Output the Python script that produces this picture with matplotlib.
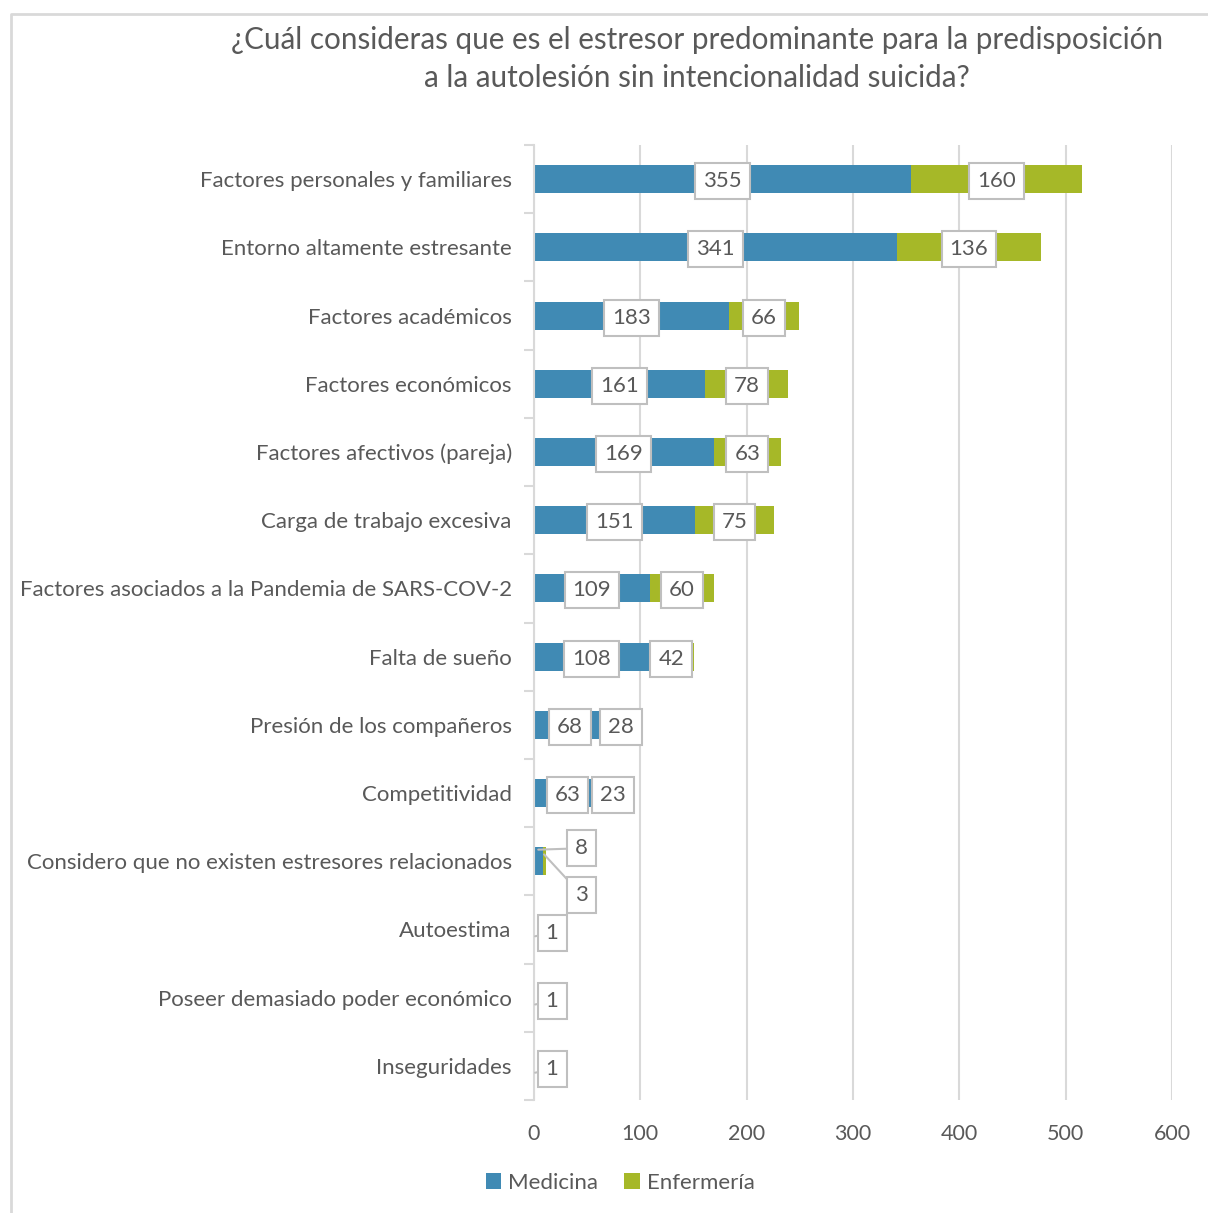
import matplotlib
matplotlib.use("Agg")
import matplotlib.pyplot as plt
from matplotlib.lines import Line2D
import numpy as np

################################################################################
# Data
categories = [
    "Factores personales y familiares",
    "Entorno altamente estresante",
    "Factores académicos",
    "Factores económicos",
    "Factores afectivos (pareja)",
    "Carga de trabajo excesiva",
    "Factores asociados a la Pandemia de SARS-COV-2",
    "Falta de sueño",
    "Presión de los compañeros",
    "Competitividad",
    "Considero que no existen estresores relacionados",
    "Autoestima",
    "Poseer demasiado poder económico",
    "Inseguridades",
]
medicina = [355, 341, 183, 161, 169, 151, 109, 108, 68, 63, 8, 1, 1, 1]
enfermeria = [160, 136, 66, 78, 63, 75, 60, 42, 28, 23, 3, 0, 0, 0]
series_names = ["Medicina", "Enfermería"]
x_ticks = [0, 100, 200, 300, 400, 500, 600]
title = ("¿Cuál consideras que es el estresor predominante para la predisposición\n"
         "a la autolesión sin intencionalidad suicida?")
################################################################################

BLUE = "#408AB4"
GREEN = "#A6B828"
GRID = "#D9D9D9"
TEXT = "#595959"
FONT = "Lato"

plt.rcParams["font.family"] = [FONT, "DejaVu Sans"]

W, H = 1208, 1213
fig = plt.figure(figsize=(W / 100, H / 100), dpi=100)

# frame of the chart area (cut off at right and bottom)
fig.add_artist(Line2D([11 / W, 11 / W, 1.0], [0.0, 1 - 14 / H, 1 - 14 / H],
                      transform=fig.transFigure, color=GRID, lw=2))

ax = fig.add_axes([534 / W, 1 - 1100 / H, (1172 - 534) / W, (1100 - 145) / H])

y = np.arange(len(categories))
bh = 0.41
ax.barh(y, medicina, height=bh, color=BLUE, label=series_names[0], zorder=2)
ax.barh(y, enfermeria, left=medicina, height=bh, color=GREEN,
        label=series_names[1], zorder=2)

ax.set_xlim(0, 600)
ax.set_ylim(len(categories) - 0.5, -0.5)
ax.set_xticks(x_ticks)
ax.set_xticklabels([str(t) for t in x_ticks], fontsize=15.5, color=TEXT)
ax.set_yticks(y)
ax.set_yticklabels(categories, fontsize=16, color=TEXT, va="center_baseline")
ax.set_yticks(np.arange(-0.5, len(categories), 1), minor=True)
ax.tick_params(axis="y", which="major", length=0, pad=16)
ax.tick_params(axis="y", which="minor", length=7, color=GRID, width=1.5)
ax.tick_params(axis="x", length=0, pad=17)
ax.grid(axis="x", color=GRID, lw=1.5, zorder=0)
for s in ["top", "right", "bottom"]:
    ax.spines[s].set_visible(False)
ax.spines["left"].set_color(GRID)
ax.spines["left"].set_linewidth(1.5)

box = dict(boxstyle="square,pad=0.36", fc="white", ec="#BFBFBF", lw=1.5)
lab_kw = dict(fontsize=16, color=TEXT, ha="center", va="center_baseline",
              bbox=box, zorder=5)
lead = dict(arrowstyle="-", color="#BFBFBF", lw=1.5, shrinkA=0, shrinkB=0)

for i in range(len(categories)):
    m, e = medicina[i], enfermeria[i]
    if m >= 15:
        ax.text(m / 2, i, str(m), **lab_kw)
        if e > 0:
            ax.text(m + e / 2, i, str(e), **lab_kw)
    elif e > 0:
        # small values: callouts above and below
        ax.annotate(str(m), xy=(m / 2, i - 0.17), xytext=(45, i - 0.22),
                    textcoords="data", arrowprops=lead, **lab_kw)
        ax.annotate(str(e), xy=(m + e / 2, i - 0.1), xytext=(45, i + 0.47),
                    textcoords="data", arrowprops=lead, **lab_kw)
    else:
        ax.annotate(str(m), xy=(m, i + 0.1), xytext=(17, i + 0.02),
                    textcoords="data", arrowprops=lead, **lab_kw)

fig.text(697 / W, 1 - 59 / H, title, ha="center", va="center", fontsize=21.3,
         color=TEXT, linespacing=1.42)

handles, labels = ax.get_legend_handles_labels()
fig.legend(handles, labels, loc="center", bbox_to_anchor=(620 / W, 1 - 1183 / H),
           ncol=2, frameon=False, fontsize=16, handlelength=0.7, handleheight=0.7,
           handletextpad=0.3, columnspacing=1.2, labelcolor=TEXT)

fig.savefig("out.png", dpi=100)
plt.close()
